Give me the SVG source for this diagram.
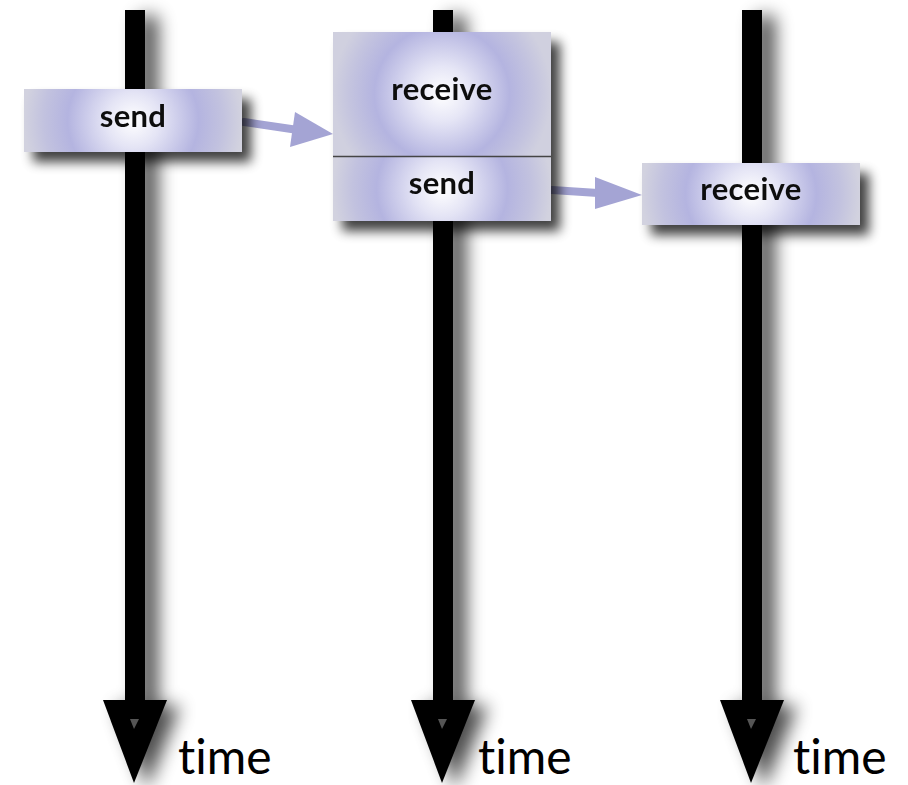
<svg xmlns="http://www.w3.org/2000/svg" width="908" height="785" viewBox="0 0 908 785">
<defs>
<radialGradient id="boxg" cx="0.5" cy="0.5" r="0.5" gradientTransform="translate(0.5,0.5) scale(1,3.46) translate(-0.5,-0.5)">
<stop offset="0" stop-color="#ffffff"/>
<stop offset="0.25" stop-color="#e4e4f5"/>
<stop offset="0.6" stop-color="#b4b4e0"/>
<stop offset="0.82" stop-color="#c2c2df"/>
<stop offset="1" stop-color="#d2d2df"/>
</radialGradient>
<radialGradient id="boxg2" cx="0.5" cy="0.5" r="0.5" gradientTransform="translate(0.5,0.5) scale(1,1.76) translate(-0.5,-0.5)">
<stop offset="0" stop-color="#ffffff"/>
<stop offset="0.25" stop-color="#e6e6f6"/>
<stop offset="0.62" stop-color="#b4b4e0"/>
<stop offset="0.85" stop-color="#c4c4df"/>
<stop offset="1" stop-color="#d0d0df"/>
</radialGradient>
<filter id="sh" x="-20%" y="-20%" width="150%" height="160%">
<feGaussianBlur in="SourceAlpha" stdDeviation="6"/>
<feOffset dx="9" dy="10" result="b"/>
<feComponentTransfer><feFuncA type="linear" slope="0.75"/></feComponentTransfer>
<feMerge><feMergeNode/><feMergeNode in="SourceGraphic"/></feMerge>
</filter>
<filter id="shl" x="-200%" y="-5%" width="500%" height="115%">
<feGaussianBlur in="SourceAlpha" stdDeviation="9"/>
<feOffset dx="13" dy="6" result="b"/>
<feComponentTransfer><feFuncA type="linear" slope="0.7"/></feComponentTransfer>
<feMerge><feMergeNode/><feMergeNode in="SourceGraphic"/></feMerge>
</filter>
</defs>
<style>
.tl{fill:#000}
.ghost{fill:#555}
.msg{stroke:#a4a4d4;stroke-width:8;stroke-linecap:round;fill:none}
.msgh{fill:#a4a4d4}
.box{fill:url(#boxg)}
.lbl{font-family:Lato,"Open Sans",sans-serif;font-weight:bold;font-size:31px;letter-spacing:0.3px;fill:#111;text-anchor:middle}
.time{font-family:Lato,"Open Sans",sans-serif;font-size:48px;fill:#000;font-variant-ligatures:none}
</style>
<rect width="908" height="785" fill="#fff"/>
<g id="connectors">
<g id="timeline1" filter="url(#shl)">
<rect class="tl" x="125" y="10" width="20" height="692"/>
<polygon class="tl" points="103,700 167,700 134,783"/>
</g>
<polygon class="ghost" points="130,719 139,719 134,729"/>
<g id="timeline2" filter="url(#shl)">
<rect class="tl" x="433" y="10" width="20" height="692"/>
<polygon class="tl" points="411,700 475,700 442,783"/>
</g>
<polygon class="ghost" points="438,719 447,719 442,729"/>
<g id="timeline3" filter="url(#shl)">
<rect class="tl" x="742" y="10" width="20" height="692"/>
<polygon class="tl" points="720,700 784,700 751,783"/>
</g>
<polygon class="ghost" points="747,719 756,719 751,729"/>
<g id="msg1">
<line class="msg" x1="244" y1="122" x2="298" y2="130"/>
<polygon class="msgh" points="295,112 333,134 290,147"/>
</g>
<g id="msg2">
<line class="msg" x1="552" y1="190" x2="598" y2="193"/>
<polygon class="msgh" points="595,177 642,195 595,209"/>
</g>
</g>
<g id="node-send1" filter="url(#sh)">
<rect class="box" x="24" y="89" width="218" height="63"/>
<text class="lbl" x="133" y="127">send</text>
</g>
<g id="node-recv-send2" filter="url(#sh)">
<rect x="333" y="32" width="218" height="124" fill="url(#boxg2)"/>
<rect class="box" x="333" y="157" width="218" height="64"/>
<line x1="333" y1="156.5" x2="551" y2="156.5" stroke="#444" stroke-width="1.5"/>
<text class="lbl" x="442" y="100">receive</text>
<text class="lbl" x="442" y="194">send</text>
</g>
<g id="node-recv3" filter="url(#sh)">
<rect class="box" x="642" y="163" width="218" height="62"/>
<text class="lbl" x="751" y="200">receive</text>
</g>
<g id="labels">
<text class="time" x="178" y="774">time</text>
<text class="time" x="478" y="774">time</text>
<text class="time" x="793" y="774">time</text>
</g>
</svg>
